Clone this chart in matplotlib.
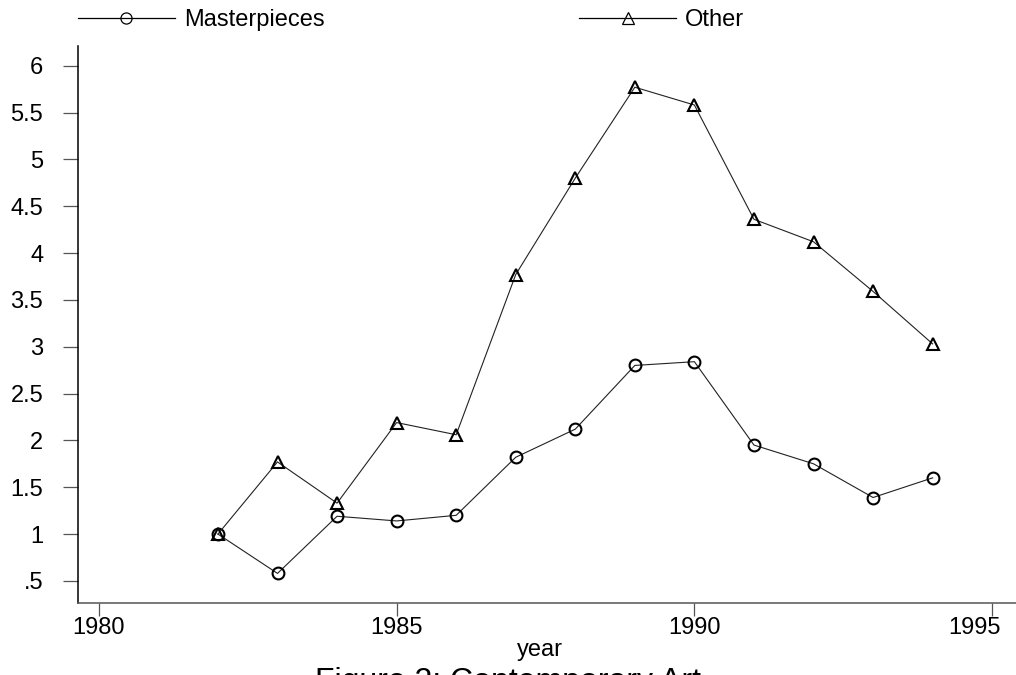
import matplotlib
matplotlib.use("Agg")
from matplotlib import pyplot as plt
from matplotlib.lines import Line2D
from matplotlib.ticker import FuncFormatter
from matplotlib.transforms import ScaledTranslation

years = [1982, 1983, 1984, 1985, 1986, 1987, 1988, 1989, 1990, 1991, 1992, 1993, 1994]
masterpieces = [1.00, 0.58, 1.19, 1.14, 1.20, 1.82, 2.12, 2.80, 2.84, 1.95, 1.75, 1.39, 1.60]
other = [1.00, 1.77, 1.33, 2.19, 2.06, 3.77, 4.80, 5.77, 5.58, 4.36, 4.12, 3.59, 3.03]
x_ticks = [1980, 1985, 1990, 1995]
y_ticks = [0.5, 1, 1.5, 2, 2.5, 3, 3.5, 4, 4.5, 5, 5.5, 6]

plt.rcParams['font.family'] = ['Liberation Sans', 'DejaVu Sans']

fig = plt.figure(figsize=(10.16, 6.75), dpi=100)
ax = fig.add_axes([78/1016, 1-603/675, 1-78/1016, (603-46)/675])

ax.plot(years, masterpieces, color='#222222', lw=0.8, marker='o', ms=8.5,
        mfc='none', mec='black', mew=1.5)
ax.plot(years, other, color='#222222', lw=0.8, marker='^', ms=9,
        mfc='none', mec='black', mew=1.5)

ax.set_xlim(1979.65, 1995.4)
ax.set_ylim(0.264, 6.21)
ax.set_xticks(x_ticks)
ax.set_yticks(y_ticks)

def fmt(v, pos):
    s = "%g" % v
    if s.startswith("0."):
        s = s[1:]
    return s

ax.yaxis.set_major_formatter(FuncFormatter(fmt))

for s in ['top', 'right']:
    ax.spines[s].set_visible(False)
ax.spines['left'].set_color('black')
ax.spines['left'].set_linewidth(1.1)
ax.spines['bottom'].set_color('#555555')
ax.spines['bottom'].set_linewidth(1.1)

ax.tick_params(axis='y', length=11, width=0.9, color='#555555', pad=14, labelsize=17)
ax.tick_params(axis='x', length=9, width=0.9, color='#555555', pad=1, labelsize=17)

# last x label sits left of its tick so it stays inside the figure
last = ax.get_xticklabels()[-1]
last.set_horizontalalignment('right')
last.set_transform(last.get_transform() + ScaledTranslation(9/100, 0, fig.dpi_scale_trans))

ax.set_xlabel('year', fontsize=17, labelpad=3)
ax.xaxis.set_label_coords((540-78)/(1016-78), -0.065)

# legend above the plot
h1 = Line2D([], [], color='black', lw=0.9, marker='o', ms=8, mfc='none', mec='black', mew=0.9)
h2 = Line2D([], [], color='black', lw=0.9, marker='^', ms=8, mfc='none', mec='black', mew=0.9)
fig.legend([h1, h2], ['Masterpieces', 'Other'], loc='center left',
           bbox_to_anchor=(78/1016, 1-20/675), ncol=2, frameon=False,
           fontsize=17, handlelength=4.1, handletextpad=0.38,
           columnspacing=10.8, borderpad=0, borderaxespad=0)

fig.text(0.5, -0.022, 'Figure 2: Contemporary Art', fontsize=23,
         ha='center', va='baseline')

fig.savefig('out.png', dpi=100)
